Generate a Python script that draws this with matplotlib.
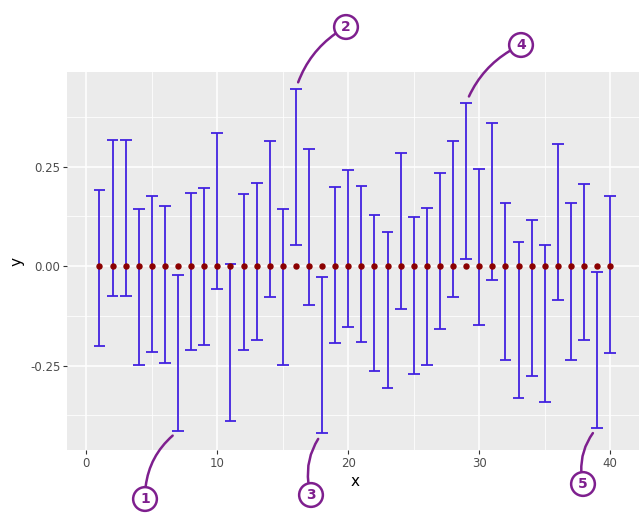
import matplotlib
matplotlib.use("Agg")
import matplotlib.pyplot as plt
from matplotlib.ticker import MultipleLocator, FixedLocator

# ---- data ----
x_vals = list(range(1, 41))
point_y = [0.0] * 40
lower = [-0.201, -0.075, -0.075, -0.249, -0.216, -0.243, -0.415, -0.210, -0.199, -0.058,
         -0.389, -0.211, -0.186, -0.077, -0.249, 0.054, -0.099, -0.420, -0.194, -0.152,
         -0.190, -0.264, -0.306, -0.109, -0.271, -0.248, -0.158, -0.079, 0.018, -0.148,
         -0.034, -0.235, -0.331, -0.277, -0.341, -0.086, -0.235, -0.187, -0.406, -0.218]
upper = [0.192, 0.317, 0.317, 0.144, 0.177, 0.151, -0.022, 0.183, 0.195, 0.335,
         0.004, 0.182, 0.208, 0.315, 0.144, 0.445, 0.293, -0.027, 0.198, 0.242,
         0.202, 0.128, 0.086, 0.284, 0.123, 0.145, 0.234, 0.315, 0.410, 0.245,
         0.359, 0.159, 0.061, 0.116, 0.054, 0.307, 0.158, 0.206, -0.014, 0.176]
x_ticks = [0, 10, 20, 30, 40]
y_ticks = [-0.25, 0.0, 0.25]
y_tick_labels = ["-0.25", "0.00", "0.25"]
# annotations: (label, x index, which end)
notes = [("1", 7, "low"), ("2", 16, "high"), ("3", 18, "low"), ("4", 29, "high"), ("5", 39, "low")]
note_pos = {"1": (145, 499), "2": (346, 27), "3": (311, 495), "4": (521, 45), "5": (583, 484)}

W, H = 639, 515
fig = plt.figure(figsize=(W / 100, H / 100), dpi=100)
ax_l, ax_r, ax_t, ax_b = 67.4, 642.3, 71.8, 450.3
ax = fig.add_axes([ax_l / W, 1 - ax_b / H, (ax_r - ax_l) / W, (ax_b - ax_t) / H])
ax.set_facecolor("#EBEBEB")
ax.set_xlim(-1.445, 42.445)
ax.set_ylim(-0.463, 0.488)
for s in ax.spines.values():
    s.set_visible(False)

ax.xaxis.set_major_locator(FixedLocator(x_ticks))
ax.xaxis.set_minor_locator(MultipleLocator(5))
ax.yaxis.set_major_locator(FixedLocator(y_ticks))
ax.set_yticklabels(y_tick_labels)
ax.yaxis.set_minor_locator(FixedLocator([-0.375, -0.125, 0.125, 0.375]))
ax.grid(True, which="major", color="white", lw=1.1)
ax.grid(True, which="minor", color="white", lw=0.55)
ax.set_axisbelow(True)
ax.tick_params(which="major", length=3, width=0.8, color="#333333", labelcolor="#4D4D4D",
               labelsize=8.5, pad=2)
ax.tick_params(which="minor", length=0)

bar_col = "#4222e0"
ax.vlines(x_vals, lower, upper, colors=bar_col, lw=1.3, zorder=3)
ax.hlines(lower, [x - 0.45 for x in x_vals], [x + 0.45 for x in x_vals], colors=bar_col, lw=1.3, zorder=3)
ax.hlines(upper, [x - 0.45 for x in x_vals], [x + 0.45 for x in x_vals], colors=bar_col, lw=1.3, zorder=3)
ax.plot(x_vals, point_y, "o", color="#8B0000", ms=3.6, zorder=4, mec="#8B0000")

ax.set_xlabel("x", fontsize=11, labelpad=3)
ax.set_ylabel("y", fontsize=11, labelpad=4)

purple = "#7E1F8E"
for lab, xi, end in notes:
    yv = lower[xi - 1] if end == "low" else upper[xi - 1]
    px, py = note_pos[lab]
    rad = -0.25 if end == "low" else 0.2
    ax.annotate(lab, xy=(xi, yv), xycoords="data",
                xytext=(px, H - py), textcoords="figure pixels",
                ha="center", va="center", fontsize=10, fontweight="bold", color=purple,
                bbox=dict(boxstyle="circle,pad=0.35", fc="none", ec=purple, lw=1.8),
                arrowprops=dict(arrowstyle="-", color=purple, lw=1.8,
                                connectionstyle=f"arc3,rad={rad}", shrinkA=0, shrinkB=5),
                annotation_clip=False, zorder=6)

fig.savefig("out.png", dpi=100)
